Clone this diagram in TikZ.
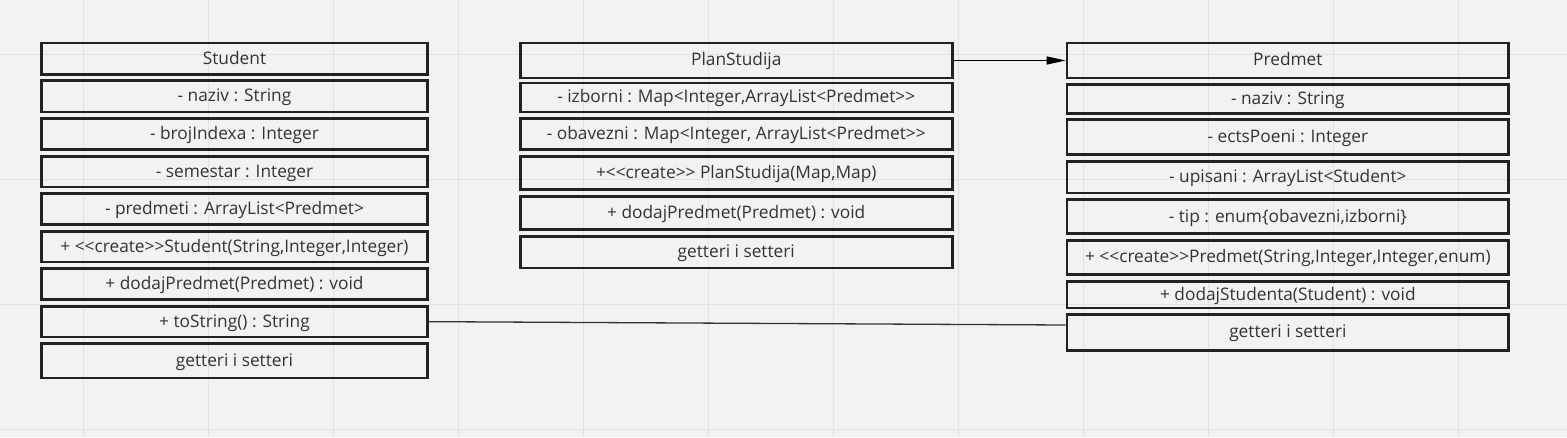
\documentclass[tikz,border=0pt]{standalone}
\usepackage{fontspec}
\setmainfont{Open Sans}
\usetikzlibrary{arrows.meta}
\definecolor{bg}{HTML}{F2F2F2}
\definecolor{gridc}{HTML}{E2E2E2}
\definecolor{bord}{HTML}{222222}
\definecolor{txt}{HTML}{333333}
\newcommand\LL{<\kern0pt<}
\newcommand\GG{>\kern0pt>}
\tikzset{
  umlrow/.style={draw=bord, line width=2.6pt, rectangle, inner sep=0pt, text=txt,
    font=\fontsize{17.3}{20}\selectfont, text height=12.4pt, text depth=1.5pt},
  conn/.style={draw=txt, line width=1.3pt},
  gridline/.style={draw=gridc, line width=1pt}
}
\newcommand\urow[6]{%
  \node[umlrow, minimum width={#3-#2-2.6}, minimum height={#5-#4-2.6}] (#1) at ({(#2+#3)/2},{(#4+#5)/2}) {#6};}
\begin{document}
\begin{tikzpicture}[x=1pt,y=-1pt]
\path[fill=bg] (0,0) rectangle (1567,437);
\useasboundingbox (0,0) rectangle (1567,437);
\foreach \x in {83,208,...,1458} \draw[gridline] (\x,0) -- (\x,437);
\foreach \y in {54,179,304,429} \draw[gridline] (0,\y) -- (1567,\y);
% Student
\urow{s1}{40}{429}{41.7}{76}{Student}
\urow{s2}{40}{429}{79.3}{113.3}{- naziv : String}
\urow{s3}{40}{429}{117.3}{150.7}{- brojIndexa : Integer}
\urow{s4}{40}{429}{155}{188.3}{- semestar : Integer}
\urow{s5}{40}{429}{192.3}{225.7}{- predmeti : ArrayList<Predmet>}
\urow{s6}{40}{429}{230}{263.3}{+ \LL create\GG Student(String,Integer,Integer)}
\urow{s7}{40}{429}{267.3}{300.7}{+ dodajPredmet(Predmet) : void}
\urow{s8}{40}{429}{305}{338.3}{+ toString() : String}
\urow{s9}{40}{429}{342.3}{379.3}{getteri i setteri}
% PlanStudija
\urow{p1}{519}{953.5}{41.7}{79.3}{PlanStudija}
\urow{p2}{519}{953.5}{81.7}{113.3}{- izborni : Map<Integer,ArrayList<Predmet\GG}
\urow{p3}{519}{953.5}{117}{150.7}{- obavezni : Map<Integer, ArrayList<Predmet\GG}
\urow{p4}{519}{953.5}{155}{191}{+\LL create\GG{} PlanStudija(Map,Map)}
\urow{p5}{519}{953.5}{195}{231}{+ dodajPredmet(Predmet) : void}
\urow{p6}{519}{953.5}{235}{269.3}{getteri i setteri}
% Predmet
\urow{r1}{1065.7}{1510}{41.7}{79.3}{Predmet}
\urow{r2}{1065.7}{1510}{83.3}{115}{- naziv : String}
\urow{r3}{1065.7}{1510}{118.3}{156}{- ectsPoeni : Integer}
\urow{r4}{1065.7}{1510}{160}{194.3}{- upisani : ArrayList<Student>}
\urow{r5}{1065.7}{1510}{198.3}{235}{- tip : enum\{obavezni,izborni\}}
\urow{r6}{1065.7}{1510}{239}{275.7}{+ \LL create\GG Predmet(String,Integer,Integer,enum)}
\urow{r7}{1065.7}{1510}{280}{309.3}{+ dodajStudenta(Student) : void}
\urow{r8}{1065.7}{1510}{313.3}{351.7}{getteri i setteri}
% connectors
\draw[conn, -{Triangle[length=19pt,width=8pt]}, draw=black, fill=black] (p1.east) -- (r1.west);
\draw[conn] (s8.east) -- ([yshift=7.5pt]r8.west);
\end{tikzpicture}
\end{document}
